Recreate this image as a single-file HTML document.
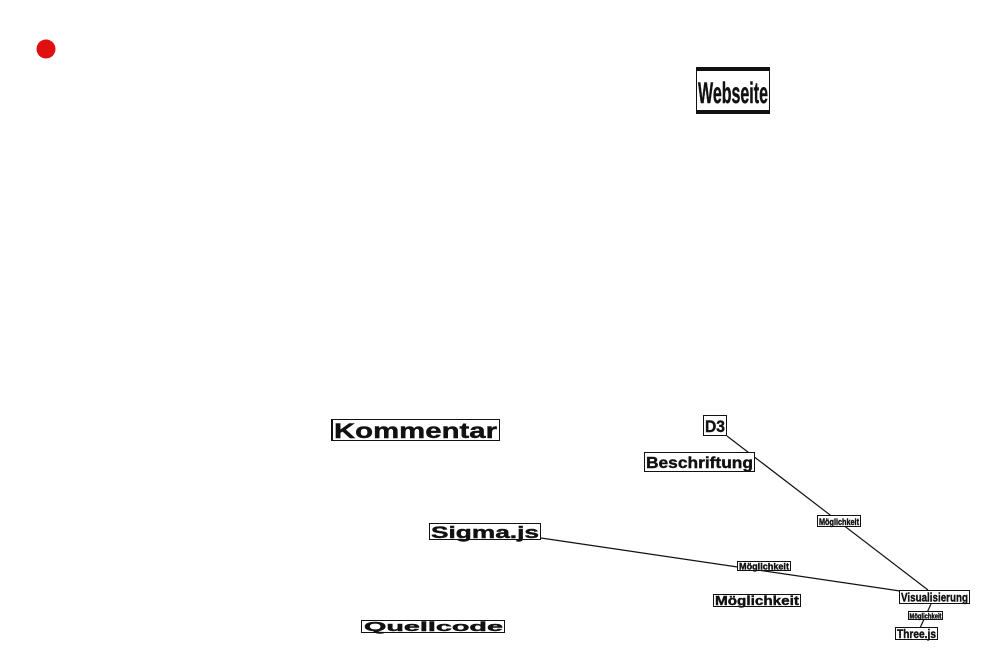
<!DOCTYPE html>
<html><head><meta charset="utf-8"><style>
html,body{margin:0;padding:0;background:#fff;width:985px;height:665px;overflow:hidden}
svg text{font-family:"Liberation Sans",sans-serif;font-weight:bold;fill:#111;stroke:#111;stroke-width:0.4}
</style></head><body>
<svg width="985" height="665" viewBox="0 0 985 665" xmlns="http://www.w3.org/2000/svg">
<circle cx="46" cy="49" r="9.5" fill="#e01010"/>
<g stroke="#111" stroke-width="1.2" fill="none">
<line x1="727" y1="436" x2="928" y2="590"/>
<line x1="541" y1="538" x2="900" y2="591"/>
<line x1="931" y1="604" x2="920" y2="628"/>
</g>
<rect x="696.5" y="68.5" width="73" height="45" fill="#fff" stroke="#111" stroke-width="1"/>
<rect x="696" y="67" width="74" height="4" fill="#111"/>
<rect x="696" y="110" width="74" height="4" fill="#111"/>
<text x="698" y="103" font-size="30" textLength="70" lengthAdjust="spacingAndGlyphs">Webseite</text>
<rect x="331.5" y="419.5" width="168" height="21" fill="#fff" stroke="#111"/>
<rect x="331" y="419" width="2" height="22" fill="#111"/>
<text x="334" y="438" font-size="21" textLength="163" lengthAdjust="spacingAndGlyphs">Kommentar</text>
<rect x="703.5" y="415.5" width="23" height="20" fill="#fff" stroke="#111"/>
<text x="705" y="432" font-size="17" textLength="20" lengthAdjust="spacingAndGlyphs">D3</text>
<rect x="644.5" y="452.5" width="110" height="19" fill="#fff" stroke="#111"/>
<text x="646" y="468" font-size="16" textLength="107" lengthAdjust="spacingAndGlyphs">Beschriftung</text>
<rect x="429.5" y="523.5" width="111" height="16" fill="#fff" stroke="#111"/>
<text x="431" y="538" font-size="17" textLength="108" lengthAdjust="spacingAndGlyphs">Sigma.js</text>
<rect x="361.5" y="620.5" width="143" height="12" fill="#fff" stroke="#111"/>
<text x="364" y="631" font-size="13" textLength="139" lengthAdjust="spacingAndGlyphs">Quellcode</text>
<rect x="713.5" y="594.5" width="87" height="12" fill="#fff" stroke="#111"/>
<text x="715" y="605" font-size="13" textLength="84" lengthAdjust="spacingAndGlyphs">Möglichkeit</text>
<rect x="817.5" y="515.5" width="43" height="11" fill="#fff" stroke="#111"/>
<text x="819" y="525" font-size="9" textLength="40" lengthAdjust="spacingAndGlyphs">Möglichkeit</text>
<rect x="737.5" y="561.5" width="53" height="9" fill="#fff" stroke="#111"/>
<text x="739" y="569.5" font-size="9" textLength="50" lengthAdjust="spacingAndGlyphs">Möglichkeit</text>
<rect x="908.5" y="611.5" width="34" height="8" fill="#fff" stroke="#111"/>
<text x="909.5" y="618.5" font-size="7.5" textLength="32" lengthAdjust="spacingAndGlyphs">Möglichkeit</text>
<rect x="899.5" y="590.5" width="70" height="13" fill="#fff" stroke="#111"/>
<text x="901" y="601.5" font-size="12" textLength="67" lengthAdjust="spacingAndGlyphs">Visualisierung</text>
<rect x="895.5" y="627.5" width="42" height="12" fill="#fff" stroke="#111"/>
<text x="897" y="638" font-size="12" textLength="39" lengthAdjust="spacingAndGlyphs">Three.js</text>
</svg>
</body></html>
